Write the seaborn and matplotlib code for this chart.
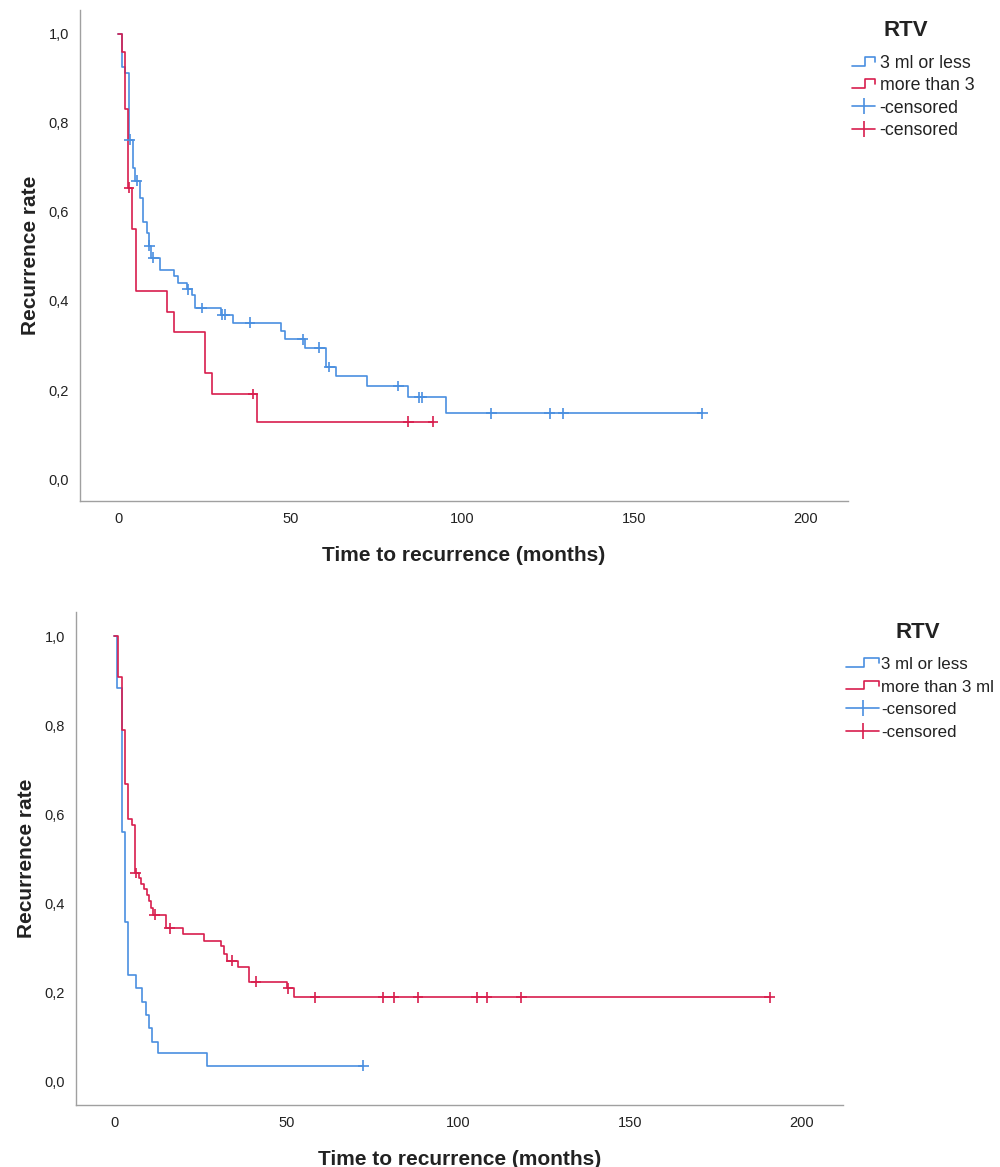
import matplotlib
matplotlib.use("Agg")
import matplotlib.pyplot as plt
from matplotlib.lines import Line2D
from matplotlib.legend_handler import HandlerBase
import numpy as np
import pandas as pd
import seaborn as sns

# ---------------- data ----------------
group_labels_top = ["3 ml or less", "more than 3"]
group_labels_bot = ["3 ml or less", "more than 3 ml"]

# top panel, group "3 ml or less"
top_low_times = [0, 1.0, 2.0, 3.1, 4.2, 4.8, 6.2, 7.2, 8.2, 8.8, 9.5, 12.1, 16.2, 17.2,
                 19.9, 21.3, 22.3, 29.8, 33.2, 47.3, 48.5, 54.3, 60.4, 63.3, 72.5, 84.4, 95.5]
top_low_surv = [1.0, 0.925, 0.912, 0.762, 0.699, 0.670, 0.631, 0.578, 0.552, 0.524, 0.497,
                0.470, 0.455, 0.441, 0.426, 0.413, 0.384, 0.369, 0.351, 0.333, 0.314, 0.295,
                0.252, 0.231, 0.209, 0.184, 0.148]
top_low_censored = [3.3, 5.3, 9.0, 10.1, 20.2, 24.2, 30.2, 31.0, 38.3, 53.6, 58.5, 61.4,
                    81.5, 87.6, 88.4, 108.5, 125.6, 129.5, 170.0]

# top panel, group "more than 3"
top_high_times = [0, 1.0, 2.0, 2.9, 4.0, 5.0, 14.2, 16.2, 25.2, 27.1, 40.2]
top_high_surv = [1.0, 0.959, 0.830, 0.654, 0.562, 0.423, 0.375, 0.331, 0.238, 0.191, 0.129]
top_high_censored = [3.1, 39.2, 84.4, 91.6]

# bottom panel, group "3 ml or less"
bot_low_times = [0, 0.8, 2.1, 3.0, 3.9, 6.2, 8.1, 9.2, 10.0, 11.0, 12.7, 27.0]
bot_low_surv = [1.0, 0.884, 0.562, 0.358, 0.240, 0.210, 0.180, 0.150, 0.120, 0.090, 0.064, 0.036]
bot_low_censored = [72.4]

# bottom panel, group "more than 3 ml"
bot_high_times = [0, 1.0, 2.1, 3.1, 3.9, 5.0, 5.9, 7.1, 7.8, 8.6, 9.4, 10.0, 10.5, 11.3,
                  14.9, 20.0, 26.1, 31.1, 31.9, 32.8, 36.0, 39.2, 50.3, 52.3]
bot_high_surv = [1.0, 0.909, 0.789, 0.669, 0.590, 0.577, 0.469, 0.457, 0.445, 0.433, 0.420,
                 0.405, 0.390, 0.375, 0.345, 0.332, 0.317, 0.304, 0.287, 0.272, 0.257, 0.225,
                 0.210, 0.190]
bot_high_censored = [6.2, 11.7, 16.1, 34.1, 41.2, 50.5, 58.4, 78.3, 81.4, 88.4, 105.4,
                     108.4, 118.5, 190.8]

x_ticks = [0, 50, 100, 150, 200]
y_ticks = [0.0, 0.2, 0.4, 0.6, 0.8, 1.0]
y_tick_labels = ["0,0", "0,2", "0,4", "0,6", "0,8", "1,0"]
x_title = "Time to recurrence (months)"
y_title = "Recurrence rate"
legend_title = "RTV"
censored_label = "-censored"

# ---------------- style ----------------
sns.set_theme(style="white")
plt.rcParams['font.family'] = ['Liberation Sans', 'DejaVu Sans']

BLUE = "#4a8fe0"
RED = "#d81e4e"
SPINE = "#a0a0a0"
TXT = "#222222"
FIG_H = 1167.0


class StepHandler(HandlerBase):
    def create_artists(self, legend, orig_handle, xdescent, ydescent, width, height,
                       fontsize, trans):
        x0, y0 = -xdescent, -ydescent
        xs = [x0, x0 + 0.55 * width, x0 + 0.55 * width, x0 + width, x0 + width]
        ys = [y0 + 0.2 * height, y0 + 0.2 * height, y0 + 0.9 * height,
              y0 + 0.9 * height, y0 + 0.5 * height]
        ln = Line2D(xs, ys, color=orig_handle.get_color(), lw=1.2, transform=trans)
        return [ln]


def build_frames(groups):
    line_rows, cens_rows = [], []
    for label, times, surv, cens in groups:
        t = list(times)
        s = list(surv)
        end = max(cens) if cens else t[-1]
        if end > t[-1]:
            t.append(end)
            s.append(s[-1])
        for ti, si in zip(t, s):
            line_rows.append((ti, si, label))
        tt = np.array(times)
        for c in cens:
            idx = np.searchsorted(tt, c, side="right") - 1
            cens_rows.append((c, surv[idx], label))
    lines = pd.DataFrame(line_rows, columns=["time", "surv", "RTV"])
    cens = pd.DataFrame(cens_rows, columns=["time", "surv", "RTV"])
    return lines, cens


def draw_panel(ax, groups, labels, xlim, ylim, legend_anchor, handlelength, title_xy,
               leg_fs, text_pad, spacing):
    palette = {labels[0]: BLUE, labels[1]: RED}
    lines, cens = build_frames(groups)
    sns.lineplot(data=lines, x="time", y="surv", hue="RTV", palette=palette,
                 drawstyle="steps-post", estimator=None, sort=True, lw=1.2,
                 legend=False, ax=ax)
    sns.scatterplot(data=cens, x="time", y="surv", hue="RTV", palette=palette,
                    marker="+", s=60, linewidth=1.2, legend=False, ax=ax, zorder=3)
    ax.set_xlim(*xlim)
    ax.set_ylim(*ylim)
    ax.set_xticks(x_ticks)
    ax.set_xticklabels([str(v) for v in x_ticks])
    ax.set_yticks(y_ticks)
    ax.set_yticklabels(y_tick_labels)
    ax.tick_params(axis="both", length=0, labelsize=10.5, colors=TXT)
    ax.tick_params(axis="x", pad=8)
    ax.tick_params(axis="y", pad=8)
    for side in ["top", "right"]:
        ax.spines[side].set_visible(False)
    for side in ["left", "bottom"]:
        ax.spines[side].set_color(SPINE)
        ax.spines[side].set_linewidth(1.0)
    ax.set_xlabel(x_title, fontsize=15, fontweight="bold", color=TXT, labelpad=14)
    ax.set_ylabel(y_title, fontsize=15, fontweight="bold", color=TXT, labelpad=6)

    handles = [Line2D([], [], color=BLUE), Line2D([], [], color=RED),
               Line2D([], [], color=BLUE, marker="|", markersize=12, lw=1.2, mew=1.2),
               Line2D([], [], color=RED, marker="|", markersize=12, lw=1.2, mew=1.2)]
    leg_labels = [labels[0], labels[1], censored_label, censored_label]
    leg = ax.legend(handles, leg_labels, loc="upper left",
                    bbox_to_anchor=legend_anchor, bbox_transform=ax.figure.transFigure,
                    frameon=False, fontsize=leg_fs, numpoints=1,
                    handlelength=handlelength, handletextpad=text_pad, labelspacing=spacing,
                    borderpad=0, borderaxespad=0,
                    handler_map={handles[0]: StepHandler(), handles[1]: StepHandler()})
    for t in leg.get_texts():
        t.set_color(TXT)
    ax.figure.text(title_xy[0], title_xy[1], legend_title, ha="center", va="center",
                   fontsize=16, fontweight="bold", color=TXT)


fig = plt.figure(figsize=(10, 11.67), dpi=100)
ax_top = fig.add_axes([0.080, 0.5707, 0.768, 0.4207])
ax_bot = fig.add_axes([0.076, 0.0531, 0.767, 0.4225])

draw_panel(ax_top,
           [(group_labels_top[0], top_low_times, top_low_surv, top_low_censored),
            (group_labels_top[1], top_high_times, top_high_surv, top_high_censored)],
           group_labels_top, (-11.2, 212.4), (-0.049, 1.053),
           (0.852, 1 - 55 / FIG_H), 1.3, (0.906, 1 - 31 / FIG_H), 12.8, 0.25, 0.30)

draw_panel(ax_bot,
           [(group_labels_bot[0], bot_low_times, bot_low_surv, bot_low_censored),
            (group_labels_bot[1], bot_high_times, bot_high_surv, bot_high_censored)],
           group_labels_bot, (-11.2, 212.1), (-0.052, 1.055),
           (0.846, 1 - 657 / FIG_H), 1.95, (0.918, 1 - 632 / FIG_H), 12.2, 0.12, 0.45)

fig.savefig("out.png", dpi=100)
